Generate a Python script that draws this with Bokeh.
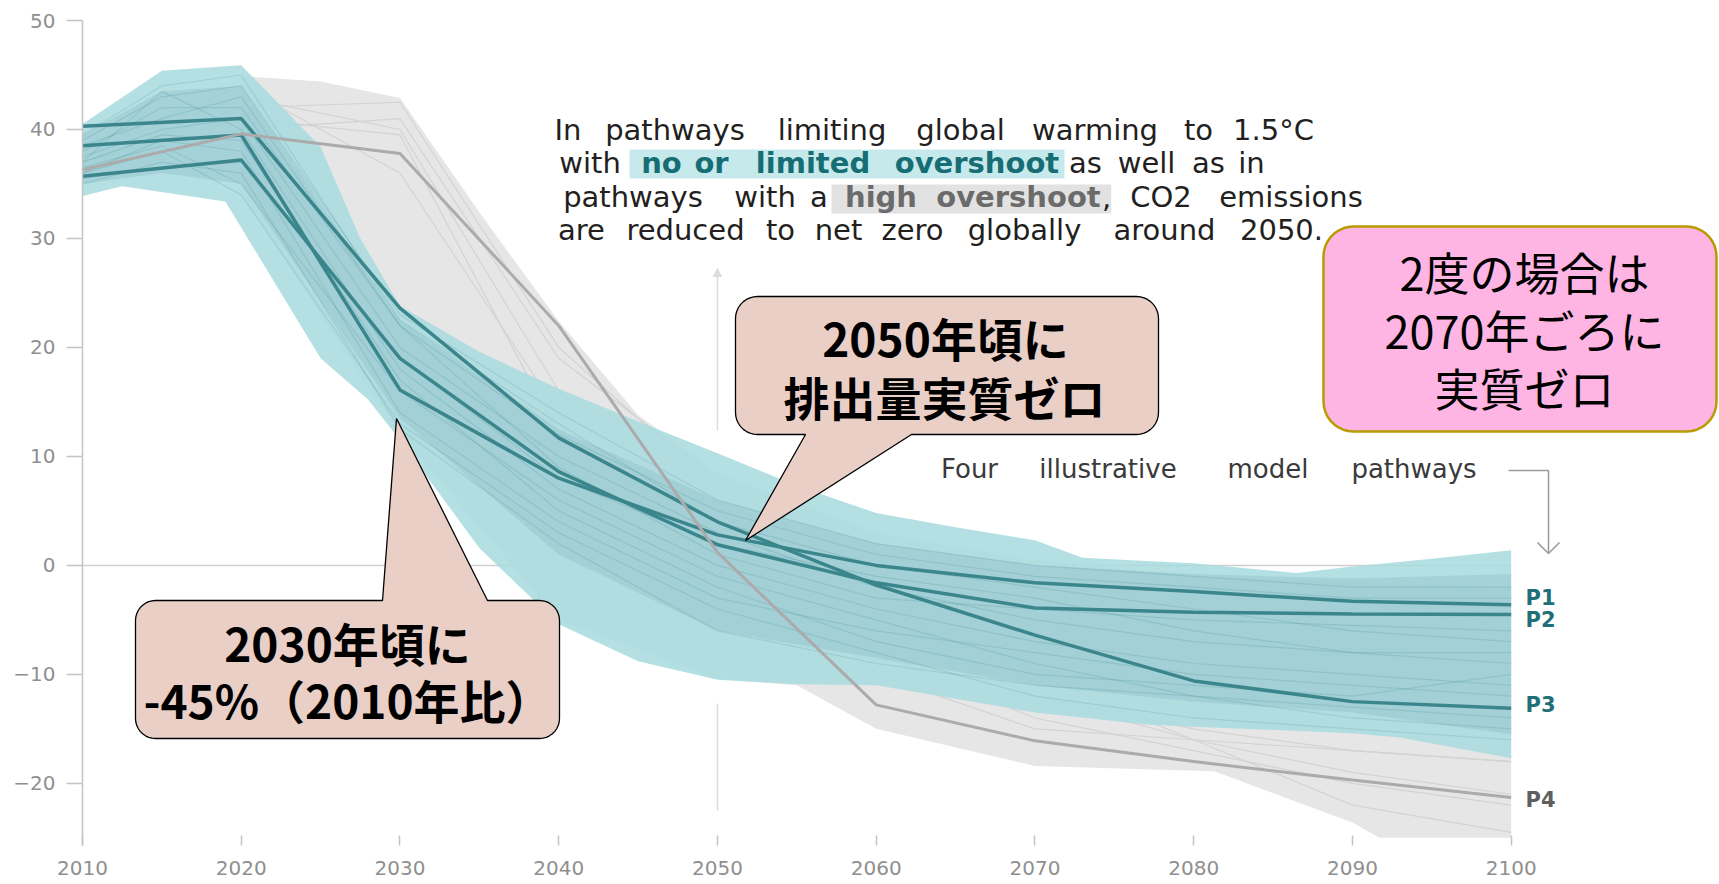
import numpy as np
from bokeh.plotting import figure
from bokeh.models import Range1d, FixedTicker, Label, Arrow, NormalHead
from bokeh.embed import file_html
from bokeh.resources import INLINE

# ---------------- data (global net CO2 emissions, GtCO2/yr) ----------------
years = [2010, 2020, 2030, 2040, 2050, 2060, 2070, 2080, 2090, 2100]
p1 = [38.5, 39.5, 16.1, 8.0, 2.8, 0.0, -1.6, -2.4, -3.3, -3.6]
p2 = [35.7, 37.2, 19.0, 8.6, 1.9, -1.6, -3.9, -4.3, -4.45, -4.5]
p3 = [40.3, 41.0, 23.6, 11.7, 4.0, -1.8, -6.4, -10.6, -12.5, -13.1]
p4 = [36.3, 39.6, 37.8, 22.0, 1.2, -12.8, -16.1, -18.0, -19.7, -21.3]
pathway_names = ["P1", "P2", "P3", "P4"]

# envelope of pathways with no or limited overshoot (teal)
teal_upper_years = [2010, 2015, 2020, 2025, 2027.5, 2030, 2035, 2040, 2045, 2050, 2055,
                    2060, 2065, 2070, 2073, 2077, 2080, 2086.5, 2090, 2095, 2100]
teal_upper = [40.5, 45.4, 45.9, 38.4, 30.0, 23.8, 19.6, 16.2, 13.2, 10.3, 7.3,
              4.8, 3.5, 2.3, 0.7, 0.4, 0.2, -0.7, -0.1, 0.6, 1.4]
teal_lower_years = [2010, 2012.5, 2019, 2025, 2028, 2030, 2035, 2040, 2045, 2050, 2055,
                    2060, 2070, 2077, 2080, 2090, 2093, 2100]
teal_lower = [33.9, 34.8, 33.4, 19.0, 15.2, 11.5, 1.6, -5.4, -8.8, -10.5, -10.9,
              -11.0, -13.5, -14.6, -14.8, -15.4, -15.8, -17.7]
# denser core of the teal envelope
core_years = [2010, 2015, 2020, 2030, 2040, 2050, 2060, 2070, 2080, 2090, 2100]
core_upper = [39.5, 43.5, 44.0, 22.5, 12.5, 6.0, 2.0, 0.0, -0.8, -1.2, -0.8]
core_lower = [35.0, 36.0, 35.0, 13.5, 1.0, -6.0, -8.5, -11.0, -12.5, -13.5, -15.5]

# envelope of pathways with high overshoot (grey)
gray_upper_years = [2020, 2025, 2030, 2035, 2040, 2045, 2050, 2060, 2070, 2080, 2090, 2100]
gray_upper = [44.9, 44.4, 42.9, 32.4, 22.4, 13.8, 8.5, 3.0, 0.5, -1.0, -1.5, -2.0]
gray_lower_years = [2020, 2030, 2040, 2050, 2055, 2060, 2070, 2081.3, 2090, 2091.7, 2100]
gray_lower = [34.0, 12.0, -5.0, -10.4, -11.0, -15.0, -18.4, -18.9, -23.6, -25.0, -25.0]

# some of the individual (faint) scenario pathways
faint_years = [2010, 2015, 2020, 2030, 2040, 2050, 2060, 2070, 2080, 2090, 2100]
teal_faint = [
    [37.0, 43.5, 40.0, 18.0, 7.0, 0.0, -4.0, -7.0, -9.0, -10.0, -11.0],
    [38.0, 42.0, 42.0, 22.0, 12.0, 5.0, 1.0, -1.0, -2.0, -3.0, -3.0],
    [36.0, 39.0, 38.0, 14.0, 4.0, -3.0, -6.0, -8.0, -10.0, -11.0, -12.0],
    [39.0, 43.0, 44.0, 23.0, 14.0, 6.0, 2.0, 0.0, -1.0, -2.0, -2.0],
    [35.0, 37.0, 36.0, 12.5, 2.0, -6.0, -9.0, -11.0, -12.0, -13.0, -14.0],
    [37.5, 40.0, 41.0, 20.0, 10.0, 3.0, -2.0, -5.0, -7.0, -8.0, -9.0],
    [36.5, 38.5, 35.0, 16.0, 6.0, -1.0, -5.0, -9.0, -12.0, -14.0, -15.0],
    [38.5, 41.0, 43.0, 22.0, 9.0, 1.0, -3.0, -4.0, -5.0, -5.5, -6.0],
    [37.0, 39.5, 39.0, 17.0, 5.0, -2.0, -7.0, -10.0, -11.0, -12.0, -10.0],
    [35.5, 36.5, 37.0, 19.0, 8.0, 2.0, -1.0, -3.0, -6.0, -8.0, -8.0],
    [39.5, 44.0, 45.0, 22.5, 13.0, 4.0, 0.0, -2.0, -4.0, -6.0, -7.0],
    [36.0, 38.0, 34.0, 13.0, 3.0, -4.0, -8.0, -12.0, -14.0, -15.0, -16.0],
]
gray_faint = [
    [37.0, 42.0, 42.5, 20.0, 7.0, -5.0, -12.0, -15.0, -17.0, -18.0],
    [38.0, 43.0, 40.0, 16.0, 4.0, -8.0, -14.0, -17.0, -20.0, -22.0],
    [36.0, 40.0, 41.0, 19.0, 8.0, -2.0, -10.0, -16.0, -22.0, -24.5],
    [37.0, 41.0, 39.5, 12.0, 2.0, -10.0, -15.0, -16.0, -17.0, -18.0],
    [38.0, 44.0, 36.0, 14.0, 5.0, -6.0, -12.0, -16.0, -19.0, -21.0],
]

tick_years = [2010, 2020, 2030, 2040, 2050, 2060, 2070, 2080, 2090, 2100]
tick_values = [-20, -10, 0, 10, 20, 30, 40, 50]

# ---------------- geometry ----------------
W, H = 1719, 884
LEFT, TOP, BOTTOM = 82, 20, 39
FW, FH = W - LEFT, H - TOP - BOTTOM
SX = 15.874          # px per year
SY = 10.898          # px per Gt
x_end = 2010 + FW / SX
y_start = 50 - FH / SY


def xd(px):  # page pixel -> data x
    return 2010 + (px - LEFT) / SX


def yd(py):  # page pixel -> data y
    return 50 - (py - TOP) / SY


TEAL_DARK = "#3b868d"
TEXT = "#231f20"

p = figure(width=W, height=H, x_range=Range1d(2010, x_end), y_range=Range1d(y_start, 50),
           output_backend="svg", toolbar_location=None, title=None,
           min_border_left=LEFT, min_border_right=0, min_border_top=TOP,
           min_border_bottom=BOTTOM)
p.outline_line_color = None
p.xgrid.visible = False
p.ygrid.visible = False
p.background_fill_color = "white"
p.border_fill_color = "white"

p.xaxis.ticker = FixedTicker(ticks=tick_years)
p.xaxis.axis_line_color = None
p.xaxis.major_tick_in = 10
p.xaxis.major_tick_out = 0
p.xaxis.minor_tick_line_color = None
p.xaxis.major_tick_line_color = "#c4c4c4"
p.xaxis.major_tick_line_width = 1.5
p.xaxis.major_label_text_font = "DejaVu Sans"
p.xaxis.major_label_text_font_size = "20px"
p.xaxis.major_label_text_color = "#8f8f8f"
p.xaxis.major_label_standoff = 15

p.yaxis.ticker = FixedTicker(ticks=tick_values)
p.yaxis.axis_line_color = "#c4c4c4"
p.yaxis.axis_line_width = 1.5
p.yaxis.major_tick_in = 0
p.yaxis.major_tick_out = 16
p.yaxis.minor_tick_line_color = None
p.yaxis.major_tick_line_color = "#c4c4c4"
p.yaxis.major_tick_line_width = 1.5
p.yaxis.major_label_text_font = "DejaVu Sans"
p.yaxis.major_label_text_font_size = "20px"
p.yaxis.major_label_text_color = "#8f8f8f"
p.yaxis.major_label_standoff = 11


def band(xu, yu, xl, yl):
    return list(xu) + list(xl)[::-1], list(yu) + list(yl)[::-1]


# zero line
p.segment(x0=[years[0]], y0=[0], x1=[years[-1]], y1=[0], line_color="#cfcfcf", line_width=1.5)

# 2050 marker line (partly hidden by the envelopes)
p.segment(x0=[2050], y0=[yd(703)], x1=[2050], y1=[yd(810)], line_color="#dcdcdc", line_width=1.5)
p.add_layout(Arrow(end=NormalHead(size=8, fill_color="#dcdcdc", line_color="#dcdcdc"),
                   x_start=2050, y_start=yd(430), x_end=2050, y_end=yd(268),
                   line_color="#dcdcdc", line_width=1.5))

# grey envelope + faint lines
gx, gy = band(gray_upper_years, gray_upper, gray_lower_years, gray_lower)
p.patch(gx, gy, fill_color="#e6e6e6", line_color=None)
p.multi_line([years] * len(gray_faint), gray_faint, line_color="#d3d3d3", line_width=1.2)

# teal envelope + core + faint lines
tx, ty = band(teal_upper_years, teal_upper, teal_lower_years, teal_lower)
p.patch(tx, ty, fill_color="#aadce0", fill_alpha=0.88, line_color=None)
cx, cy = band(core_years, core_upper, core_years, core_lower)
p.patch(cx, cy, fill_color="#8cbec5", fill_alpha=0.4, line_color=None)
p.multi_line([faint_years] * len(teal_faint), teal_faint, line_color=TEAL_DARK,
             line_alpha=0.18, line_width=1.2)

# illustrative pathways
for ys in (p1, p2, p3):
    p.line(years, ys, line_color=TEAL_DARK, line_width=3.5)
p.line(years, p4, line_color="#ababab", line_width=3)


def txt(s, px, py, size, font="DejaVu Sans", color=TEXT, align="center",
        baseline="middle", style="normal"):
    p.add_layout(Label(x=xd(px), y=yd(py), text=s, text_font=font,
                       text_font_size=f"{size}px", text_color=color, text_align=align,
                       text_baseline=baseline, text_font_style=style))


# P labels
label_py = [597, 619, 704, 799]
label_col = ["#1f6f78", "#1f6f78", "#1f6f78", "#5f5f5f"]
for name, py, col in zip(pathway_names, label_py, label_col):
    txt(name, 1525, py, 21, color=col, align="left", style="bold")

# "Four illustrative model pathways" + elbow arrow
for w, cxp in [("Four", 969), ("illustrative", 1107.5), ("model", 1267.5), ("pathways", 1413.5)]:
    txt(w, cxp, 468.5, 26, color="#3a3a3a")
p.line([xd(1508), xd(1548), xd(1548)], [yd(470), yd(470), yd(552)], line_color="#9a9a9a", line_width=1.5)
p.line([xd(1537), xd(1548), xd(1559)], [yd(542), yd(553), yd(542)], line_color="#9a9a9a", line_width=1.5)

# paragraph with highlights
p.quad(left=[xd(629)], right=[xd(1064)], top=[yd(149)], bottom=[yd(178)],
       fill_color="#c6e9ec", line_color=None)
p.quad(left=[xd(831)], right=[xd(1110.7)], top=[yd(184)], bottom=[yd(213)],
       fill_color="#e2e2e2", line_color=None)
HL_T, HL_G = "#176d74", "#6b6b6b"
para = [
    (129, [("In", 567.5, None), ("pathways", 674.5, None), ("limiting", 831.5, None),
           ("global", 960, None), ("warming", 1094.5, None), ("to", 1198, None), ("1.5°C", 1273, None)]),
    (162.5, [("with", 589.5, None), ("no", 661, HL_T), ("or", 711, HL_T), ("limited", 812.5, HL_T),
             ("overshoot", 976.5, HL_T), ("as", 1085, None), ("well", 1146, None), ("as", 1208, None),
             ("in", 1251, None)]),
    (196.8, [("pathways", 632.5, None), ("with", 764.5, None), ("a", 818.5, None), ("high", 880.5, HL_G),
             ("overshoot", 1018, HL_G), (",", 1106, None), ("CO2", 1160.5, None), ("emissions", 1290.5, None)]),
    (229, [("are", 581, None), ("reduced", 685, None), ("to", 780, None), ("net", 838, None),
           ("zero", 912, None), ("globally", 1024, None), ("around", 1164, None), ("2050.", 1281, None)]),
]
for py, words in para:
    for w, cxp, hl in words:
        if hl is None:
            txt(w, cxp, py, 29)
        else:
            txt(w, cxp, py, 29, color=hl, style="bold")


# speech-bubble callouts
def bubble(x0, y0, x1, y1, r, tail=None):
    pts = []

    def arc(ccx, ccy, a0, a1):
        for t in np.linspace(a0, a1, 10):
            pts.append((ccx + r * np.cos(t), ccy + r * np.sin(t)))

    arc(x0 + r, y0 + r, np.pi, 1.5 * np.pi)
    if tail and tail[0] == "top":
        _, b0, b1, tip = tail
        pts += [(b0, y0), tip, (b1, y0)]
    arc(x1 - r, y0 + r, 1.5 * np.pi, 2 * np.pi)
    arc(x1 - r, y1 - r, 0, 0.5 * np.pi)
    if tail and tail[0] == "bottom":
        _, b0, b1, tip = tail
        pts += [(b1, y1), tip, (b0, y1)]
    arc(x0 + r, y1 - r, 0.5 * np.pi, np.pi)
    return [xd(a) for a, b in pts], [yd(b) for a, b in pts]


bx, by = bubble(135, 600, 559, 738, 20, ("top", 382, 487, (396, 418)))
p.patch(bx, by, fill_color="#e9cfc6", line_color="black", line_width=1.3)
bx, by = bubble(735, 296, 1158, 434, 22, ("bottom", 805, 911, (745, 540)))
p.patch(bx, by, fill_color="#e9cfc6", line_color="black", line_width=1.3)
bx, by = bubble(1323, 226, 1716, 431, 30)
p.patch(bx, by, fill_color="#ffb5e4", line_color="#b89b00", line_width=2.5)

JP = "Noto Sans CJK JP"
txt("2030年頃に", 347, 641, 46, font=JP, color="black", style="bold")
txt("-45%（2010年比）", 347, 698, 46, font=JP, color="black", style="bold")
txt("2050年頃に", 945, 336, 46, font=JP, color="black", style="bold")
txt("排出量実質ゼロ", 944, 395, 46, font=JP, color="black", style="bold")
txt("2度の場合は", 1524, 271, 45, font=JP, color="black")
txt("2070年ごろに", 1524, 329, 45, font=JP, color="black")
txt("実質ゼロ", 1524, 387, 45, font=JP, color="black")

open("out.html", "w").write(file_html(p, INLINE))
